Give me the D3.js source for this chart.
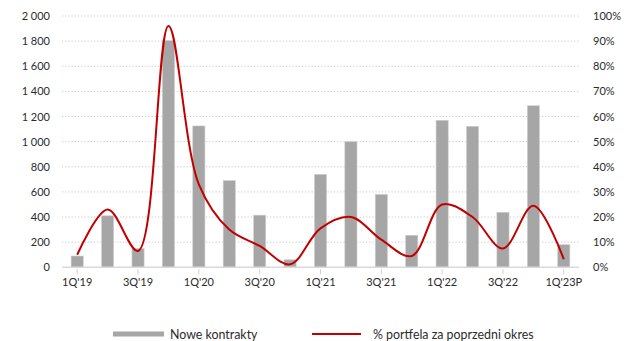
<!DOCTYPE html>
<html>
<head>
<meta charset="utf-8">
<script src="https://cdn.jsdelivr.net/npm/d3@7"></script>
<style>
  html, body { margin: 0; padding: 0; background: #fff; }
  svg text { font-family: Lato, "Open Sans", sans-serif; fill: #2b2b2b; }
</style>
</head>
<body>
<svg id="chart" width="633" height="341"></svg>
<script>
// Quarterly categories
const quarters = ["1Q'19","2Q'19","3Q'19","4Q'19","1Q'20","2Q'20","3Q'20","4Q'20",
                  "1Q'21","2Q'21","3Q'21","4Q'21","1Q'22","2Q'22","3Q'22","4Q'22","1Q'23P"];
// New contracts (left axis)
const newContracts = [90, 410, 150, 1805, 1125, 690, 415, 60,
                      740, 1000, 580, 255, 1170, 1122, 438, 1286, 180];
// Share of previous-period portfolio, % (right axis)
const portfolioPct = [5, 23, 6.5, 96, 33, 15, 8.5, 1.2,
                      15.5, 20, 11, 4.5, 25, 20, 7.5, 24.5, 3.2];
// Tick labels
const leftTicks = [0, 200, 400, 600, 800, 1000, 1200, 1400, 1600, 1800, 2000];
const rightTicks = [0, 10, 20, 30, 40, 50, 60, 70, 80, 90, 100];
const labelledQuarters = ["1Q'19","3Q'19","1Q'20","3Q'20","1Q'21","3Q'21","1Q'22","3Q'22","1Q'23P"];
const seriesNames = ["Nowe kontrakty", "% portfela za poprzedni okres"];

const svg = d3.select("#chart");
const plotL = 62, plotR = 579, plotT = 16, plotB = 267.3;

const x = d3.scaleBand().domain(quarters).range([plotL, plotR]).paddingInner(0.6).paddingOuter(0.3);
const yL = d3.scaleLinear().domain([0, 2000]).range([plotB, plotT]);
const yR = d3.scaleLinear().domain([0, 100]).range([plotB, plotT]);

const fmt = v => d3.format(",")(v).replace(/,/g, " ");

// dotted gridlines
svg.append("g").selectAll("line")
  .data(leftTicks.filter(t => t > 0))
  .join("line")
  .attr("x1", plotL).attr("x2", plotR)
  .attr("y1", d => yL(d)).attr("y2", d => yL(d))
  .attr("stroke", "#c8c8c8").attr("stroke-width", 1)
  .attr("stroke-dasharray", "1.2 2");

// left axis labels
const axL = svg.append("g").attr("transform", `translate(${plotL},0)`)
  .call(d3.axisLeft(yL).tickValues(leftTicks).tickFormat(fmt).tickSize(0).tickPadding(12));
axL.select(".domain").remove();
axL.selectAll("text").attr("font-size", 11).attr("fill", "#2b2b2b");

// right axis labels
const axR = svg.append("g").attr("transform", `translate(${plotR},0)`)
  .call(d3.axisRight(yR).tickValues(rightTicks).tickFormat(d => d + "%").tickSize(0).tickPadding(14));
axR.select(".domain").remove();
axR.selectAll("text").attr("font-size", 11).attr("fill", "#2b2b2b");

// bars
svg.append("g").selectAll("rect")
  .data(quarters.map((q, i) => ({ q, v: newContracts[i] })))
  .join("rect")
  .attr("x", d => x(d.q))
  .attr("width", x.bandwidth())
  .attr("y", d => yL(d.v))
  .attr("height", d => plotB - yL(d.v))
  .attr("fill", "#a6a6a6")
  .attr("stroke", "#d0d0d0").attr("stroke-width", 0.6);

// baseline
svg.append("line")
  .attr("x1", plotL).attr("x2", plotR)
  .attr("y1", plotB).attr("y2", plotB)
  .attr("stroke", "#d9d9d9").attr("stroke-width", 1.5);

// bottom axis
const axB = svg.append("g").attr("transform", `translate(0,${plotB})`)
  .call(d3.axisBottom(x).tickValues(labelledQuarters).tickSize(5).tickPadding(6));
axB.select(".domain").remove();
axB.selectAll("line").attr("stroke", "#d0d0d0").attr("transform", "translate(0,2)");
axB.selectAll("text").attr("font-size", 11).attr("fill", "#2b2b2b");

// smoothed percentage line
const line = d3.line()
  .x((d, i) => x(quarters[i]) + x.bandwidth() / 2)
  .y(d => yR(d))
  .curve(d3.curveCatmullRom.alpha(0.5));
svg.append("path")
  .datum(portfolioPct)
  .attr("d", line)
  .attr("fill", "none")
  .attr("stroke", "#c00000")
  .attr("stroke-width", 2);

// legend
const lg = svg.append("g");
lg.append("rect").attr("x", 113).attr("y", 331.5).attr("width", 51).attr("height", 5).attr("fill", "#a6a6a6");
lg.append("text").attr("x", 170).attr("y", 338.5).attr("font-size", 12.4).text(seriesNames[0]);
lg.append("line").attr("x1", 312).attr("x2", 361).attr("y1", 334).attr("y2", 334)
  .attr("stroke", "#c00000").attr("stroke-width", 2);
lg.append("text").attr("x", 373).attr("y", 338.5).attr("font-size", 12.4).text(seriesNames[1]);
</script>
</body>
</html>
